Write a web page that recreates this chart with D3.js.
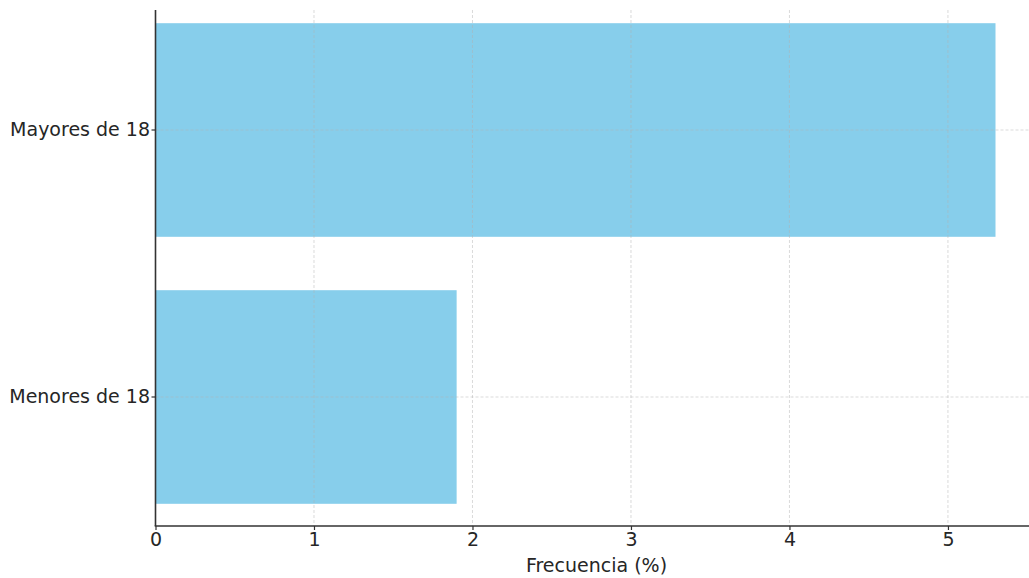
<!DOCTYPE html>
<html>
<head>
<meta charset="utf-8">
<script src="https://cdn.jsdelivr.net/npm/d3@7"></script>
<style>
  html, body { margin: 0; padding: 0; background: #fff; }
  svg { display: block; font-family: "DejaVu Sans", sans-serif; }
</style>
</head>
<body>
<svg id="chart" width="1029" height="578"></svg>
<script>
// Frequency by age group
const categories = ["Mayores de 18", "Menores de 18"];
const values = [5.3, 1.9];
const xTicks = [0, 1, 2, 3, 4, 5];
const xLabel = "Frecuencia (%)";

const svg = d3.select("#chart");
const plot = { left: 155.5, right: 1037.5, top: 10, bottom: 526 };
const fontSize = "19px";

const x = d3.scaleLinear()
  .domain([0, 5.565])
  .range([plot.left, plot.right]);

const y = d3.scaleBand()
  .domain(categories)
  .range([-3.5, 530.5])
  .paddingInner(0.2)
  .paddingOuter(0.1);

const textColor = "#262626";
const spineColor = "#333333";
const gridColor = "#b0b0b0";

// bars
svg.append("g")
  .selectAll("rect")
  .data(categories)
  .join("rect")
  .attr("x", x(0))
  .attr("y", d => y(d))
  .attr("width", (d, i) => x(values[i]) - x(0))
  .attr("height", y.bandwidth())
  .attr("fill", "#87CEEB");

// grid, drawn over the bars
const grid = svg.append("g")
  .attr("stroke", gridColor)
  .attr("stroke-opacity", 0.6)
  .attr("stroke-width", 0.8)
  .attr("stroke-dasharray", "3,2");

grid.selectAll("line.v")
  .data(xTicks.filter(t => t > 0))
  .join("line")
  .attr("class", "v")
  .attr("x1", d => x(d)).attr("x2", d => x(d))
  .attr("y1", plot.top).attr("y2", plot.bottom);

grid.selectAll("line.h")
  .data(categories)
  .join("line")
  .attr("class", "h")
  .attr("x1", plot.left).attr("x2", plot.right)
  .attr("y1", d => y(d) + y.bandwidth() / 2)
  .attr("y2", d => y(d) + y.bandwidth() / 2);

// x axis
const xAxis = svg.append("g")
  .attr("transform", `translate(0,${plot.bottom})`)
  .call(d3.axisBottom(x).tickValues(xTicks).tickFormat(d3.format("d")).tickSize(4).tickPadding(3));
xAxis.select(".domain").attr("stroke", spineColor).attr("stroke-width", 1.6)
  .attr("d", `M${plot.left - 0.8},0H${plot.right}`);
xAxis.selectAll(".tick line").attr("stroke", spineColor).attr("stroke-width", 1.2);
xAxis.selectAll(".tick text")
  .attr("fill", textColor)
  .style("font-size", fontSize)
  .style("font-family", "DejaVu Sans, sans-serif");

// y axis
const yAxis = svg.append("g")
  .attr("transform", `translate(${plot.left},0)`)
  .call(d3.axisLeft(y).tickSize(4).tickPadding(1.5));
yAxis.select(".domain").attr("stroke", spineColor).attr("stroke-width", 1.6)
  .attr("d", `M0,${plot.top}V${plot.bottom}`);
yAxis.selectAll(".tick line").attr("stroke", spineColor).attr("stroke-width", 1.2);
yAxis.selectAll(".tick text")
  .attr("fill", textColor)
  .style("font-size", fontSize)
  .style("font-family", "DejaVu Sans, sans-serif");

// x axis title
svg.append("text")
  .attr("x", (plot.left + plot.right) / 2)
  .attr("y", 572)
  .attr("text-anchor", "middle")
  .attr("fill", textColor)
  .style("font-size", fontSize)
  .text(xLabel);
</script>
</body>
</html>
